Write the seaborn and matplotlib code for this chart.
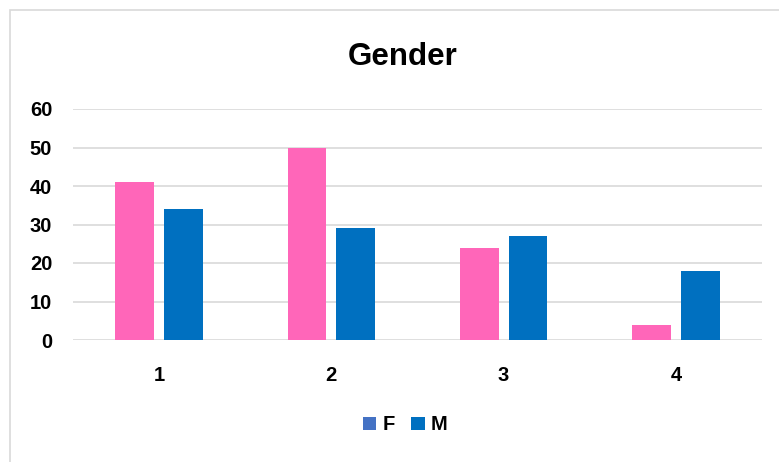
import matplotlib
matplotlib.use("Agg")
import matplotlib.pyplot as plt
from matplotlib.patches import Patch, Rectangle
import seaborn as sns
import pandas as pd

# Counts per group, split by gender
groups = ["1", "2", "3", "4"]
female = [41, 50, 24, 4]
male = [34, 29, 27, 18]
yticks = [0, 10, 20, 30, 40, 50, 60]

bar_colors = {"F": "#FF66B9", "M": "#0070C0"}
legend_colors = {"F": "#4472C4", "M": "#0070C0"}

df = pd.DataFrame({
    "group": groups * 2,
    "gender": ["F"] * len(groups) + ["M"] * len(groups),
    "count": female + male,
})

sns.set_theme(style="white")
plt.rcParams["font.family"] = ["Liberation Sans", "DejaVu Sans"]
plt.rcParams["font.weight"] = "bold"
plt.rcParams["text.color"] = "black"
plt.rcParams["xtick.color"] = "black"
plt.rcParams["ytick.color"] = "black"

W, H = 779, 462
fig = plt.figure(figsize=(W / 100, H / 100), dpi=100)
fig.patch.set_facecolor("white")

# Light frame around the chart area
fig.add_artist(Rectangle((10 / W, -0.05), 1.1, 1 - 10 / H + 0.05,
                         transform=fig.transFigure, fill=False,
                         edgecolor="#D9D9D9", linewidth=1.2))

ax = fig.add_axes([73 / W, 122 / H, 689 / W, 231 / H])
sns.barplot(data=df, x="group", y="count", hue="gender", order=groups,
            hue_order=["F", "M"], palette=bar_colors, width=0.566, gap=0.21,
            legend=False, ax=ax, zorder=3, saturation=1,
            linewidth=0, edgecolor="none")

ax.set_ylim(0, 60)
ax.set_yticks(yticks)
ax.set_yticklabels([str(v) for v in yticks], fontsize=14.5,
                   fontweight="bold", color="black")
ax.set_xticklabels(groups, fontsize=14.5, fontweight="bold", color="black")
ax.tick_params(axis="y", length=0, pad=15)
ax.tick_params(axis="x", length=0, pad=19)
ax.set_xlabel("")
ax.set_ylabel("")
for s in ax.spines.values():
    s.set_visible(False)
ax.set_axisbelow(True)
ax.yaxis.grid(True, color="#D9D9D9", linewidth=1.2)
ax.xaxis.grid(False)
ax.set_facecolor("white")

fig.text(403 / W, 1 - 57 / H, "Gender", ha="center", va="center",
         fontsize=22.5, fontweight="bold", color="black")

handles = [Patch(facecolor=legend_colors[g], edgecolor="none", label=g)
           for g in ["F", "M"]]
fig.legend(handles=handles, loc="center", bbox_to_anchor=(405 / W, 1 - 425 / H),
           ncol=2, frameon=False,
           prop={"size": 14.5, "weight": "bold"},
           handlelength=0.68, handleheight=0.68, handletextpad=0.3,
           columnspacing=0.8, labelcolor="black")

fig.savefig("out.png", dpi=100, facecolor="white")
